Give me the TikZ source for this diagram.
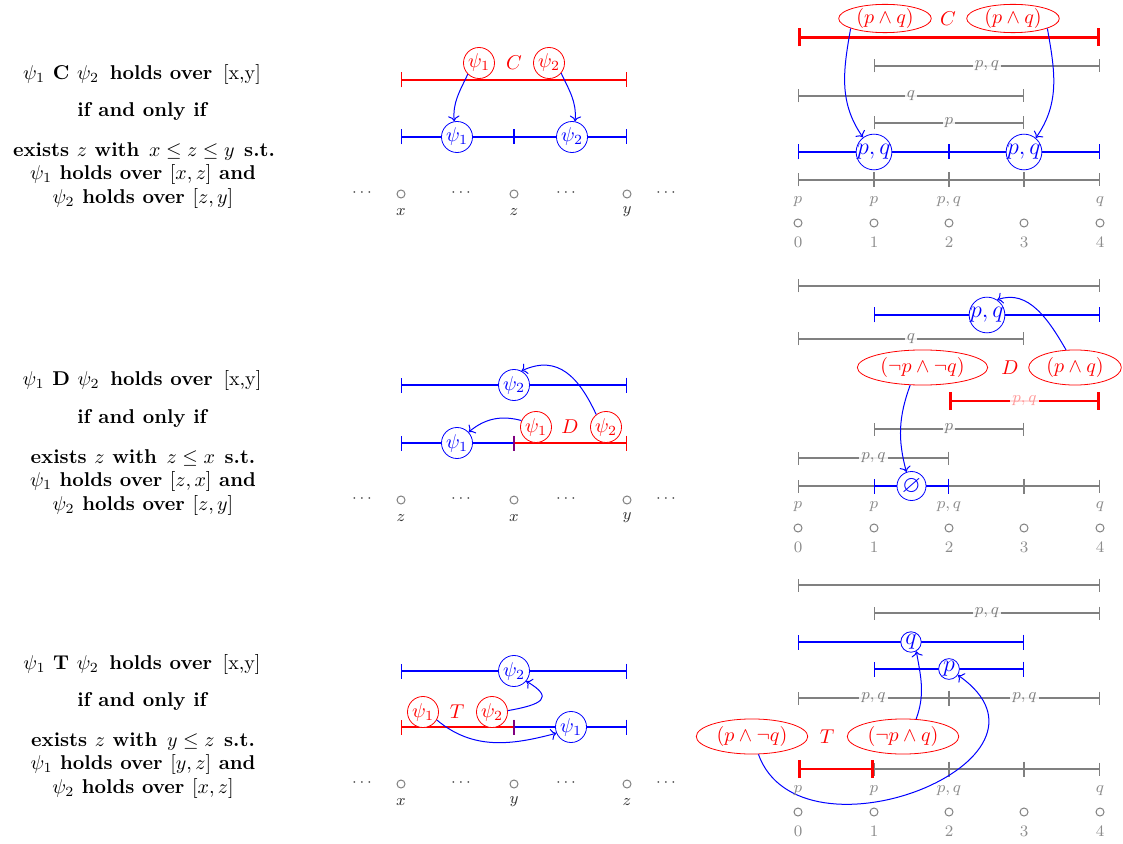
\documentclass[tikz,border=0pt]{standalone}
\usepackage{amssymb}
\usetikzlibrary{arrows.meta,shapes.geometric}
\begin{document}
\begin{tikzpicture}[x=0.5pt,y=-0.5pt,
  ivl/.style={{Bar[width=7.5pt]}-{Bar[width=7.5pt]}, line width=0.6pt},
  givl/.style={{Bar[width=6.5pt]}-{Bar[width=6.5pt]}, line width=0.6pt, draw=gray},
  bivl/.style={ivl, draw=blue},
  rivl/.style={ivl, draw=red},
  rthick/.style={{Bar[width=9pt]}-{Bar[width=9pt]}, draw=red, line width=1.3pt},
  tickmk/.style={line width=1.2pt},
  glab/.style={fill=white, fill opacity=0.85, text opacity=1, text=gray, inner sep=1pt, font=\footnotesize},
  rlab/.style={glab, text=red!40},
  rcirc/.style={circle, draw=red, text=red, fill=white, minimum size=15.5pt, inner sep=0.5pt},
  bcirc/.style={circle, draw=blue, text=blue, fill=white, minimum size=15.5pt, inner sep=0.5pt},
  bsm/.style={circle, draw=blue, text=blue, fill=white, inner sep=0.3pt, font=\large},
  bpq/.style={bsm, inner sep=-0.2pt},
  rellc/.style={ellipse, draw=red, text=red, fill=white, inner xsep=2pt, inner ysep=0pt},
  rell/.style={ellipse, draw=red, text=red, fill=white, inner xsep=2pt, inner ysep=1.2pt},
  oplab/.style={text=red},
  arr/.style={->, draw=blue, line width=0.5pt},
  tpt/.style={circle, draw=gray, minimum size=4pt, inner sep=0pt, line width=0.5pt},
  tdots/.style={text=black!75, font=\footnotesize},
  tname/.style={text=black!80, font=\footnotesize},
  gname/.style={text=gray!90, font=\footnotesize},
  txt/.style={anchor=base, font=\bfseries}
]
\useasboundingbox (0,0) rectangle (1123,844);

% ---------------- left texts ----------------
\node[txt] (c-t1) at (142,80) {$\psi_1$ C $\psi_2$\ \kern1.5pt holds over\ \kern1.5pt \mdseries[x,y]};
\node[txt] (c-t2) at (142,117) {if and only if};
\node[txt] (c-t3) at (144,157) {exists $z$ with\ \kern1pt $x \leq z \leq y$\ \kern1pt s.t.};
\node[txt] (c-t4) at (143,180) {$\psi_1$ holds over $[x,z]$ and};
\node[txt] (c-t5) at (143,204) {$\psi_2$ holds over $[z,y]$};

\node[txt] (d-t1) at (142,386) {$\psi_1$ D $\psi_2$\ \kern1.5pt holds over\ \kern1.5pt \mdseries[x,y]};
\node[txt] (d-t2) at (142,423) {if and only if};
\node[txt] (d-t3) at (143,463) {exists $z$ with\ \kern1pt $z \leq x$\ \kern1pt s.t.};
\node[txt] (d-t4) at (143,486) {$\psi_1$ holds over $[z,x]$ and};
\node[txt] (d-t5) at (143,510) {$\psi_2$ holds over $[z,y]$};

\node[txt] (t-t1) at (142,669) {$\psi_1$ T $\psi_2$\ \kern1.5pt holds over\ \kern1.5pt \mdseries[x,y]};
\node[txt] (t-t2) at (142,706) {if and only if};
\node[txt] (t-t3) at (143,746) {exists $z$ with\ \kern1pt $y \leq z$\ \kern1pt s.t.};
\node[txt] (t-t4) at (143,769) {$\psi_1$ holds over $[y,z]$ and};
\node[txt] (t-t5) at (143,793) {$\psi_2$ holds over $[x,z]$};

% ---------------- middle C ----------------
\draw[rivl] (401,80) -- (627,80);
\node[rcirc] (c-r1) at (479,63) {$\psi_1$};
\node[oplab] (c-op) at (514,63) {$C$};
\node[rcirc] (c-r2) at (549,63) {$\psi_2$};
\draw[bivl] (401,137) -- (627,137);
\draw[tickmk, blue] (514,129.5) -- (514,144.5);
\node[bcirc] (c-b1) at (457,137) {$\psi_1$};
\node[bcirc] (c-b2) at (572,137) {$\psi_2$};
\draw[arr] (c-r1.-135) to[out=-115,in=95] (c-b1.100);
\draw[arr] (c-r2.-40) to[out=-65,in=85] (c-b2.79);
\foreach \x [count=\i] in {362,461,566,666} \node[tdots] (c-dots\i) at (\x,193) {$\cdots$};
\foreach \x/\t [count=\i] in {401/x,514/z,627/y} {
  \node[tpt] (c-pt\i) at (\x,194) {};
  \node[tname] (c-nm\i) at (\x,212) {$\t$};
}

% ---------------- middle D ----------------
\draw[bivl] (401,385) -- (627,385);
\node[bcirc] (d-b2) at (514,385) {$\psi_2$};
\draw[bivl] (401,443) -- (514,443);
\draw[rivl] (514,443) -- (627,443);
\draw[line width=0.9pt, red!50!blue] (514,435.5) -- (514,450.5);
\node[bcirc] (d-b1) at (457,443) {$\psi_1$};
\node[rcirc] (d-r1) at (536,427) {$\psi_1$};
\node[oplab] (d-op) at (570,427) {$D$};
\node[rcirc] (d-r2) at (606,427) {$\psi_2$};
\draw[arr] (d-r1.156) to[out=165,in=40] (d-b1.43);
\draw[arr] (d-r2.128) to[out=115,in=25,looseness=1.2] (d-b2.62);
\foreach \x [count=\i] in {362,461,566,666} \node[tdots] (d-dots\i) at (\x,499) {$\cdots$};
\foreach \x/\t [count=\i] in {401/z,514/x,627/y} {
  \node[tpt] (d-pt\i) at (\x,500) {};
  \node[tname] (d-nm\i) at (\x,518) {$\t$};
}

% ---------------- middle T ----------------
\draw[bivl] (401,671) -- (627,671);
\node[bcirc] (t-b2) at (514,671) {$\psi_2$};
\draw[rivl] (401,727) -- (514,727);
\draw[bivl] (514,727) -- (627,727);
\draw[line width=0.9pt, red!50!blue] (514,719.5) -- (514,734.5);
\node[bcirc] (t-b1) at (571,727) {$\psi_1$};
\node[rcirc] (t-r1) at (423,712) {$\psi_1$};
\node[oplab] (t-op) at (457,712) {$T$};
\node[rcirc] (t-r2) at (492,712) {$\psi_2$};
\draw[arr] (t-r1.-30) to[out=-40,in=195] (t-b1.203);
\draw[arr] (t-r2.5) to[out=10,in=-30,looseness=2.5] (t-b2.-40);
\foreach \x [count=\i] in {362,461,566,666} \node[tdots] (t-dots\i) at (\x,783) {$\cdots$};
\foreach \x/\t [count=\i] in {401/x,514/y,627/z} {
  \node[tpt] (t-pt\i) at (\x,784) {};
  \node[tname] (t-nm\i) at (\x,802) {$\t$};
}

% ---------------- right C ----------------
\draw[rthick] (798,37.5) -- (1100,37.5);
\node[rellc] (rc-e1) at (885,18.5) {$(p\wedge q)$};
\node[oplab] (rc-op) at (948,18.5) {$C$};
\node[rellc] (rc-e2) at (1013,18.5) {$(p\wedge q)$};
\draw[givl] (874,66) -- node[glab] (rc-l1) {$p,q$} (1100,66);
\draw[givl] (798,96) -- node[glab] (rc-l2) {$q$} (1024,96);
\draw[givl] (874,123) -- node[glab] (rc-l3) {$p$} (1024,123);
\draw[bivl] (798,152) -- (1100,152);
\draw[tickmk,blue] (949,144.5) -- (949,159.5);
\node[bpq] (rc-b1) at (874,152) {$p,q$};
\node[bpq] (rc-b2) at (1024,152) {$p,q$};
\draw[givl] (798,180) -- (1100,180);
\foreach \x in {874,949,1024} \draw[tickmk,gray] (\x,172.5) -- (\x,187.5);
\draw[arr] (rc-e1.196) to[out=-100,in=125] (rc-b1.127);
\draw[arr] (rc-e2.-16) to[out=-80,in=55] (rc-b2.50);
\foreach \x/\t [count=\i] in {798/p,874/p,949/{p,q},1100/q} \node[gname] (rc-v\i) at (\x,202) {$\t$};
\foreach \x [count=\i from 0] in {798,874,949,1024,1100} {
  \node[tpt] (rc-c\i) at (\x,223) {};
  \node[gname] (rc-n\i) at (\x,242) {\i};
}

% ---------------- right D ----------------
\draw[givl] (798,286) -- (1100,286);
\draw[bivl] (874,315) -- (1100,315);
\node[bpq] (rd-b1) at (987,315) {$p,q$};
\draw[givl] (798,339) -- node[glab] (rd-l1) {$q$} (1024,339);
\node[rell] (rd-e1) at (922.5,367.5) {$(\neg p\wedge\neg q)$};
\node[oplab] (rd-op) at (1010,367.5) {$D$};
\node[rell] (rd-e2) at (1075,367.5) {$(p\wedge q)$};
\draw[rthick] (949,401) -- node[rlab] (rd-l2) {$p,q$} (1100,401);
\draw[givl] (874,429) -- node[glab] (rd-l3) {$p$} (1024,429);
\draw[givl] (798,458) -- node[glab] (rd-l4) {$p,q$} (949,458);
\draw[givl] (798,486) -- (1100,486);
\draw[tickmk,gray] (1024,478.5) -- (1024,493.5);
\draw[bivl] (874,486) -- (949,486);
\node[bsm, inner sep=0.8pt] (rd-b2) at (911.5,486) {$\varnothing$};
\draw[arr] (rd-e1.-125) to[out=-110,in=105] (rd-b2.110);
\draw[arr] (rd-e2.117) to[out=120,in=20] (rd-b1.56);
\foreach \x/\t [count=\i] in {798/p,874/p,949/{p,q},1100/q} \node[gname] (rd-v\i) at (\x,507) {$\t$};
\foreach \x [count=\i from 0] in {798,874,949,1024,1100} {
  \node[tpt] (rd-c\i) at (\x,528) {};
  \node[gname] (rd-n\i) at (\x,547) {\i};
}

% ---------------- right T ----------------
\draw[givl] (798,585) -- (1100,585);
\draw[givl] (874,613) -- node[glab] (rt-l1) {$p,q$} (1100,613);
\draw[bivl] (798,642) -- (1024,642);
\node[bsm] (rt-bq) at (911,642) {$q$};
\draw[bivl] (874,669) -- (1024,669);
\node[bsm] (rt-bp) at (949,669) {$p$};
\draw[givl] (798,698) -- node[glab] (rt-l2) {$p,q$} (949,698);
\draw[givl] (949,698) -- node[glab] (rt-l3) {$p,q$} (1100,698);
\draw[tickmk,gray] (949,690.5) -- (949,705.5);
\node[rell] (rt-e1) at (752,736.5) {$(p\wedge\neg q)$};
\node[oplab] (rt-op) at (827,736.5) {$T$};
\node[rell] (rt-e2) at (903,736.5) {$(\neg p\wedge q)$};
\draw[givl] (874,769) -- (1100,769);
\foreach \x in {949,1024} \draw[tickmk,gray] (\x,761.5) -- (\x,776.5);
\draw[rthick] (798,769) -- (874,769);
\draw[arr] (rt-e2.53) to[out=70,in=-80] (rt-bq.-60);
\draw[arr] (rt-e1) .. controls (800,870) and (1080,760) .. (rt-bp);
\foreach \x/\t [count=\i] in {798/p,874/p,949/{p,q},1100/q} \node[gname] (rt-v\i) at (\x,791) {$\t$};
\foreach \x [count=\i from 0] in {798,874,949,1024,1100} {
  \node[tpt] (rt-c\i) at (\x,812) {};
  \node[gname] (rt-n\i) at (\x,831) {\i};
}
\end{tikzpicture}
\end{document}
